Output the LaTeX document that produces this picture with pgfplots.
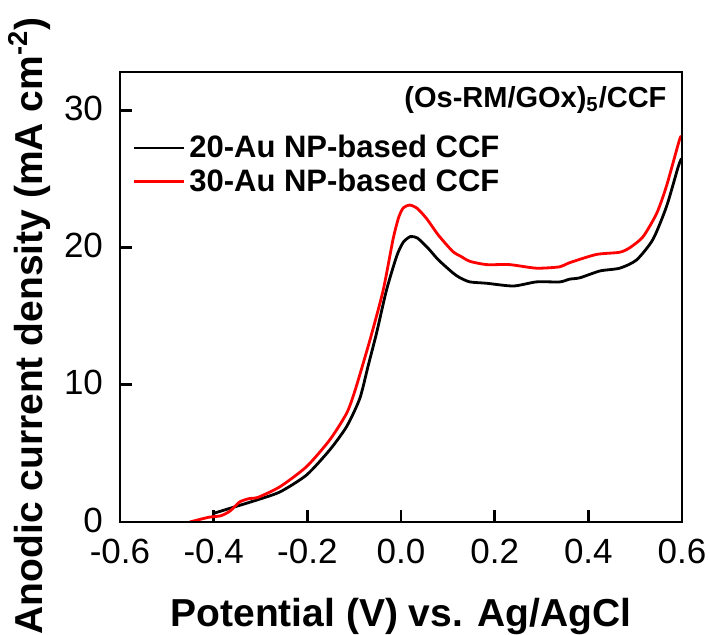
\documentclass[border=0pt]{standalone}
\usepackage{fontspec}
\setmainfont{Liberation Sans}
\usepackage{pgfplots}
\pgfplotsset{compat=1.18}

\begin{document}
\begin{tikzpicture}
\begin{axis}[
name=ax,
scale only axis,
width=281pt, height=225pt,
xmin=-0.6, xmax=0.6,
ymin=0, ymax=32.8,
xtick={-0.6,-0.4,-0.2,0,0.2,0.4,0.6},
ytick={0,10,20,30},
tick pos=left,
tick align=inside,
major tick length=6pt,
axis line style={line width=1.4pt},
every tick/.style={line width=1.4pt, black},
xticklabel style={/pgf/number format/fixed, /pgf/number format/fixed zerofill,
  /pgf/number format/precision=1, yshift=-5pt},
/pgf/number format/assume math mode=true,
ticklabel style={font=\fontsize{17.5}{20}\selectfont},
yticklabel style={xshift=-5pt, yshift=1pt},
xlabel={\bfseries Potential (V) vs. Ag/AgCl},
ylabel={\bfseries Anodic current density (mA cm\textsuperscript{-2})},
label style={font=\fontsize{19.5}{22}\selectfont},
xlabel style={at={([yshift=-52pt]axis description cs:0.5,0)}, anchor=base},
ylabel style={at={([xshift=-38.5pt,yshift=-14.5pt]axis description cs:0,0.5)}, anchor=base},
legend cell align=left,
legend style={draw=none, fill=none, at={(0.011,0.878)}, anchor=north west,
  font=\fontsize{15.5}{18}\selectfont\bfseries, row sep=0pt},
legend image code/.code={\draw[#1] (0pt,0pt) -- (25pt,0pt);},
]

% 20-Au NP-based CCF
\addplot[black, line width=1.4pt, smooth, tension=0.4] coordinates {
(-0.40,0.63) (-0.365,1.0) (-0.308,1.6) (-0.258,2.2) (-0.2015,3.43)
(-0.152,5.26) (-0.116,6.96) (-0.088,9.0) (-0.07,11.4) (-0.052,13.8)
(-0.031,16.9) (-0.009,19.4) (0.005,20.4) (0.02,20.8) (0.035,20.7)
(0.058,19.95) (0.08,19.1) (0.111,18.15) (0.126,17.8) (0.147,17.5)
(0.183,17.4) (0.24,17.2) (0.289,17.5) (0.339,17.5) (0.36,17.7)
(0.382,17.8) (0.425,18.3) (0.467,18.5) (0.503,19.1) (0.538,20.6)
(0.567,23.0) (0.592,25.9) (0.599,26.5)
};
\addlegendentry{20-Au NP-based CCF}

% 30-Au NP-based CCF
\addplot[red, line width=1.4pt, smooth, tension=0.4] coordinates {
(-0.451,0) (-0.41,0.35) (-0.385,0.45) (-0.365,0.8) (-0.345,1.45)
(-0.325,1.7) (-0.305,1.8) (-0.258,2.58) (-0.2015,4.04) (-0.152,5.99)
(-0.116,7.93) (-0.098,9.6) (-0.066,13.3) (-0.038,16.9) (-0.017,20.6)
(-0.005,22.2) (0.005,22.9) (0.019,23.1) (0.035,22.85) (0.055,22.1)
(0.08,20.9) (0.111,19.7) (0.126,19.4) (0.147,19.0) (0.183,18.76)
(0.232,18.76) (0.289,18.5) (0.339,18.6) (0.36,18.9) (0.417,19.5)
(0.467,19.66) (0.489,20.0) (0.517,20.8) (0.546,22.5) (0.567,24.5)
(0.595,27.9) (0.599,28.0)
};
\addlegendentry{30-Au NP-based CCF}

% frame
\draw[line width=1.4pt] (rel axis cs:0,0) rectangle (rel axis cs:1,1);

\node[anchor=east, inner sep=0pt, font=\fontsize{14.5}{16}\selectfont\bfseries]
  at (rel axis cs:0.973,0.938) {(Os-RM/GOx)\textsubscript{5}/CCF};

\end{axis}
\pgfresetboundingbox
\path ([xshift=-60pt,yshift=36pt]ax.north west) rectangle ([xshift=14pt,yshift=-56.5pt]ax.south east);
\end{tikzpicture}
\end{document}
